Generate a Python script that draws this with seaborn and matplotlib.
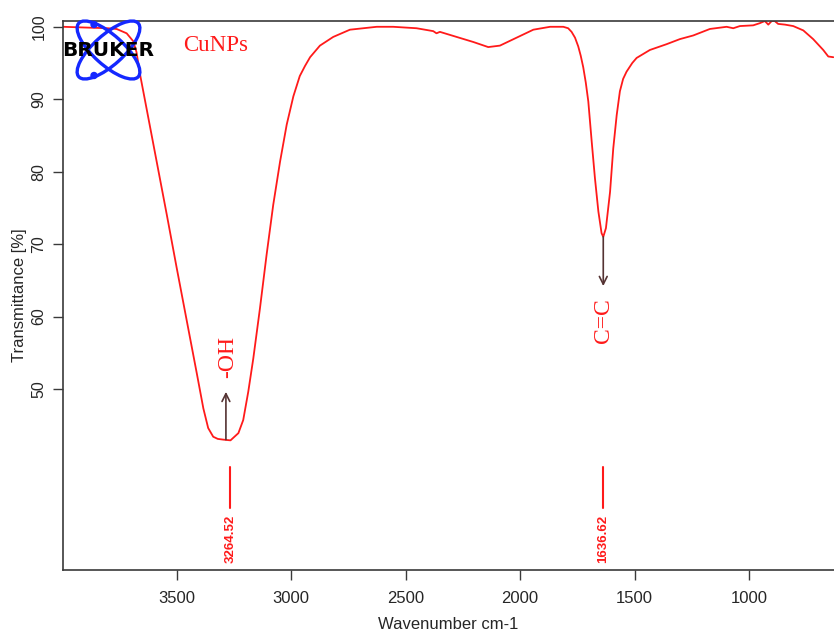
import matplotlib
matplotlib.use("Agg")
import matplotlib.pyplot as plt
from matplotlib.patches import Ellipse, Circle
import seaborn as sns
import pandas as pd

# FTIR spectrum of the copper nanoparticle sample
wavenumber = [3996, 3900, 3800, 3762, 3718, 3689, 3675, 3660, 3631, 3587,
              3543, 3500, 3456, 3412, 3383, 3362, 3340, 3320, 3296, 3264.52,
              3230, 3209, 3187, 3165, 3136, 3107, 3078, 3048, 3019, 2990,
              2962, 2939, 2917, 2874, 2816, 2743, 2626, 2554, 2452, 2379,
              2365, 2350, 2277, 2204, 2139, 2088, 2015, 1942, 1869, 1811,
              1790, 1775, 1760, 1746, 1735, 1724, 1713, 1702, 1687, 1673,
              1658, 1644, 1636.62, 1625, 1607, 1593, 1578, 1564, 1550, 1535,
              1510, 1491, 1433, 1360, 1302, 1244,
              1171, 1098, 1069, 1040, 982, 953, 931, 916, 901, 888,
              873, 843, 807, 763, 720, 676, 654, 632]
transmittance = [100.0, 99.9, 99.8, 99.7, 99.1, 98.0, 96.5, 93.5, 88.7, 81.4,
                 74.1, 66.8, 59.5, 52.2, 47.3, 44.6, 43.4, 43.1, 43.0, 42.9,
                 43.9, 45.7, 49.6, 54.2, 61.1, 68.5, 75.4, 81.4, 86.5, 90.4,
                 93.2, 94.6, 95.8, 97.4, 98.6, 99.6, 100.0, 100.0, 99.8, 99.4,
                 99.1, 99.3, 98.6, 97.9, 97.2, 97.4, 98.5, 99.6, 100.0, 100.0,
                 99.8, 99.3, 98.5, 97.3, 96.0, 94.4, 92.3, 89.7, 84.1, 79.1,
                 74.5, 71.5, 71.0, 72.2, 77.2, 83.2, 87.8, 91.1, 92.8, 93.8,
                 95.0, 95.7, 96.8, 97.6, 98.3, 98.8,
                 99.7, 100.0, 99.8, 100.1, 100.2, 100.5, 100.8, 100.3, 100.8, 100.8,
                 100.4, 100.3, 100.1, 99.5, 98.3, 96.8, 95.9, 95.8]

# Labelled absorption bands
peak_positions = [3264.52, 1636.62]
peak_labels = ["3264.52", "1636.62"]
group_labels = ["-OH", "C=C"]

x_ticks = [3500, 3000, 2500, 2000, 1500, 1000]
y_ticks = [50, 60, 70, 80, 90, 100]

sns.set_style("white")
plt.rcParams["font.family"] = ["Liberation Sans", "DejaVu Sans"]

RED = "#ff1a1a"
ARROW = "#553333"
SERIF = ["Liberation Serif", "DejaVu Serif"]

fig = plt.figure(figsize=(8.34, 6.32), dpi=100)
ax = fig.add_axes([63 / 834, 62 / 632, 771 / 834, 549 / 632])

df = pd.DataFrame({"Wavenumber": wavenumber, "Transmittance": transmittance})
sns.lineplot(data=df, x="Wavenumber", y="Transmittance", sort=False,
             estimator=None, color=RED, lw=1.3, ax=ax)

ax.set_xlim(3996, 629)
ax.set_ylim(25.0, 100.8)
ax.set_xticks(x_ticks)
ax.set_yticks(y_ticks)
ax.set_xticklabels([str(t) for t in x_ticks], fontsize=12)
ax.set_yticklabels([str(t) for t in y_ticks], fontsize=11.5, rotation=90,
                   va="center")

for side in ("left", "bottom", "top"):
    ax.spines[side].set_color("#3a3a3a")
    ax.spines[side].set_linewidth(1.2)
ax.spines["right"].set_visible(False)
ax.tick_params(axis="both", direction="out", length=7, width=1.0,
               color="#3a3a3a", left=True, bottom=True)
ax.tick_params(axis="x", pad=8)
ax.tick_params(axis="y", pad=5)

ax.set_xlabel("Wavenumber cm-1", fontsize=12, labelpad=8)
ax.set_ylabel("Transmittance [%]", fontsize=12, labelpad=3)

# Peak position markers and values
peak_depths = [transmittance[wavenumber.index(p)] for p in peak_positions]
for pos, lab in zip(peak_positions, peak_labels):
    ax.plot([pos, pos], [33.6, 39.2], color=RED, lw=1.5)
    ax.text(pos, 29.3, lab, rotation=90, ha="center", va="center",
            color=RED, fontsize=9.5, fontweight="bold")

# -OH band: arrow pointing up from the band minimum
oh_x = peak_positions[0] + 20
ax.annotate("", xy=(oh_x, 49.6), xytext=(oh_x, peak_depths[0] + 0.1),
            arrowprops=dict(arrowstyle="->", color=ARROW, lw=1.2,
                            mutation_scale=14, shrinkA=0, shrinkB=0))
ax.text(peak_positions[0] + 12, 54.4, group_labels[0], rotation=90,
        ha="center", va="center", color=RED, family=SERIF, fontsize=17)

# C=C band: arrow pointing down from the band minimum
cc_x = peak_positions[1]
ax.annotate("", xy=(cc_x, 64.2), xytext=(cc_x, peak_depths[1]),
            arrowprops=dict(arrowstyle="->", color=ARROW, lw=1.2,
                            mutation_scale=14, shrinkA=0, shrinkB=0))
ax.text(cc_x, 59.4, group_labels[1], rotation=90, ha="center",
        va="center", color=RED, family=SERIF, fontsize=17)

ax.text(0.198, 0.955, "CuNPs", transform=ax.transAxes, ha="center",
        va="center", color=RED, family=SERIF, fontsize=16.5)

# Instrument logo in the upper-left corner (pixel-unit inset)
logo = fig.add_axes([60 / 834, 1 - 85 / 632, 100 / 834, 70 / 632])
logo.set_xlim(60, 160)
logo.set_ylim(85, 15)
logo.axis("off")
logo.patch.set_alpha(0)
for ang in (42, -42):
    logo.add_patch(Ellipse((108.5, 50), 80, 30, angle=ang, fill=False,
                           ec="#1428ff", lw=2.4))
for cy in (24.5, 75.5):
    logo.add_patch(Circle((94, cy), 3.0, color="#1428ff"))
logo.text(108.5, 51, "BRUKER", ha="center", va="center", color="black",
          family=["DejaVu Sans"], fontweight="heavy", fontsize=14.5)

fig.savefig("out.png", dpi=100)
